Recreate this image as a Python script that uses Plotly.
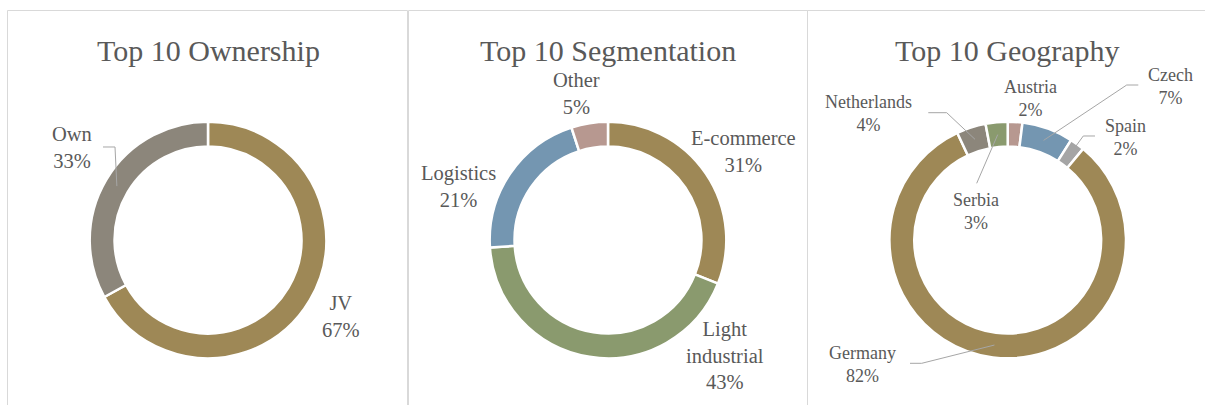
import math
import plotly.graph_objects as go

# ---------------- data ----------------
own_labels = ["JV", "Own"]
own_values = [67, 33]

seg_labels = ["E-commerce", "Light industrial", "Logistics", "Other"]
seg_values = [31, 43, 21, 5]

geo_labels = ["Austria", "Czech", "Spain", "Germany", "Netherlands", "Serbia"]
geo_values = [2, 7, 2, 82, 4, 3]

titles = ["Top 10 Ownership", "Top 10 Segmentation", "Top 10 Geography"]

# ---------------- styling / layout ----------------
W, H = 1205, 405
GOLD, GREY, GREEN, BLUE, PINK, LGREY = "#9E8856", "#8C867B", "#8A9A6E", "#7496B1", "#B79890", "#A5A5A5"
own_colors = [GOLD, GREY]
seg_colors = [GOLD, GREEN, BLUE, PINK]
geo_colors = [PINK, BLUE, LGREY, GOLD, GREY, GREEN]
TXT = "#595959"
FONT = "Liberation Serif"
HOLE = 0.79
CY = 240.0          # donut centre (px from top)
R_OUT = 118.3       # outer radius px
centers_x = [208.0, 608.0, 1007.7]
half_w = [200.0, 199.5, 194.3]

def X(px):
    return px / W

def Y(py):
    return 1 - py / H

# label block positions (px) and leader-line waypoints (px) per panel
label_pos = [
    {"JV": (341, 316), "Own": (72, 148)},
    {"E-commerce": (743, 151), "Light industrial": (725, 355), "Logistics": (458, 187), "Other": (576, 94)},
    {"Austria": (1030, 98), "Czech": (1170, 87), "Spain": (1125, 137), "Germany": (862, 364.5),
     "Netherlands": (868, 113), "Serbia": (976, 211)},
]
leader_pts = [
    {"Own": [(115, 147), (103, 147)]},
    {},
    {"Netherlands": [(946.7, 112.7), (928.3, 112.7)], "Serbia": [(976.7, 183.3)],
     "Czech": [(1126.7, 85), (1138.3, 85)], "Spain": [(1083.3, 136), (1095, 136)],
     "Germany": [(921.7, 363.3), (910, 363.3)]},
]
label_size = [20.5, 20.5, 18]
label_text = {"Light industrial": "Light<br>industrial"}

panels = [(own_labels, own_values, own_colors),
          (seg_labels, seg_values, seg_colors),
          (geo_labels, geo_values, geo_colors)]

fig = go.Figure()
annotations = []
shapes = []

for i, (labs, vals, cols) in enumerate(panels):
    cx = centers_x[i]
    fig.add_trace(go.Pie(
        labels=labs, values=vals, sort=False, direction="clockwise", rotation=0,
        hole=HOLE, textinfo="none", hoverinfo="label+percent",
        marker=dict(colors=cols, line=dict(color="white", width=2.5)),
        domain=dict(x=[X(cx - half_w[i]), X(cx + half_w[i])],
                    y=[Y(CY + R_OUT), Y(CY - R_OUT)]),
        showlegend=False,
    ))
    # title
    annotations.append(dict(text=titles[i], x=X(cx), y=Y(50.5), xref="paper", yref="paper",
                            showarrow=False, xanchor="center", yanchor="middle",
                            font=dict(family=FONT, size=30, color=TXT)))
    total = float(sum(vals))
    cum = 0.0
    r_mid = R_OUT * (1 + HOLE) / 2
    for lab, v in zip(labs, vals):
        mid = (cum + v / 2) / total
        cum += v
        ang = 2 * math.pi * mid
        ax = cx + r_mid * math.sin(ang)
        ay = CY - r_mid * math.cos(ang)
        pct = round(100 * v / total)
        lx, ly = label_pos[i][lab]
        annotations.append(dict(text=f"{label_text.get(lab, lab)}<br>{pct}%", x=X(lx), y=Y(ly),
                                xref="paper", yref="paper", showarrow=False,
                                xanchor="center", yanchor="middle", align="center",
                                font=dict(family=FONT, size=label_size[i], color=TXT)))
        if lab in leader_pts[i]:
            pts = [(ax, ay)] + leader_pts[i][lab]
            path = "M " + " L ".join(f"{X(px):.5f},{Y(py):.5f}" for px, py in pts)
            shapes.append(dict(type="path", path=path, xref="paper", yref="paper",
                               line=dict(color="#A6A6A6", width=1)))

# panel borders
for x0, x1 in [(7.5, 407.5), (408.5, 807.5), (807.5, 1215)]:
    shapes.append(dict(type="rect", xref="paper", yref="paper",
                       x0=X(x0), x1=X(x1), y0=Y(420), y1=Y(10.5),
                       line=dict(color="#D9D9D9", width=1), fillcolor="rgba(0,0,0,0)", layer="below"))

fig.update_layout(width=W, height=H, margin=dict(l=0, r=0, t=0, b=0),
                  paper_bgcolor="white", plot_bgcolor="white",
                  annotations=annotations, shapes=shapes)

fig.write_html("out.html", config={"displayModeBar": False},
               post_script="document.body.style.margin='0';document.body.style.overflow='hidden';")
